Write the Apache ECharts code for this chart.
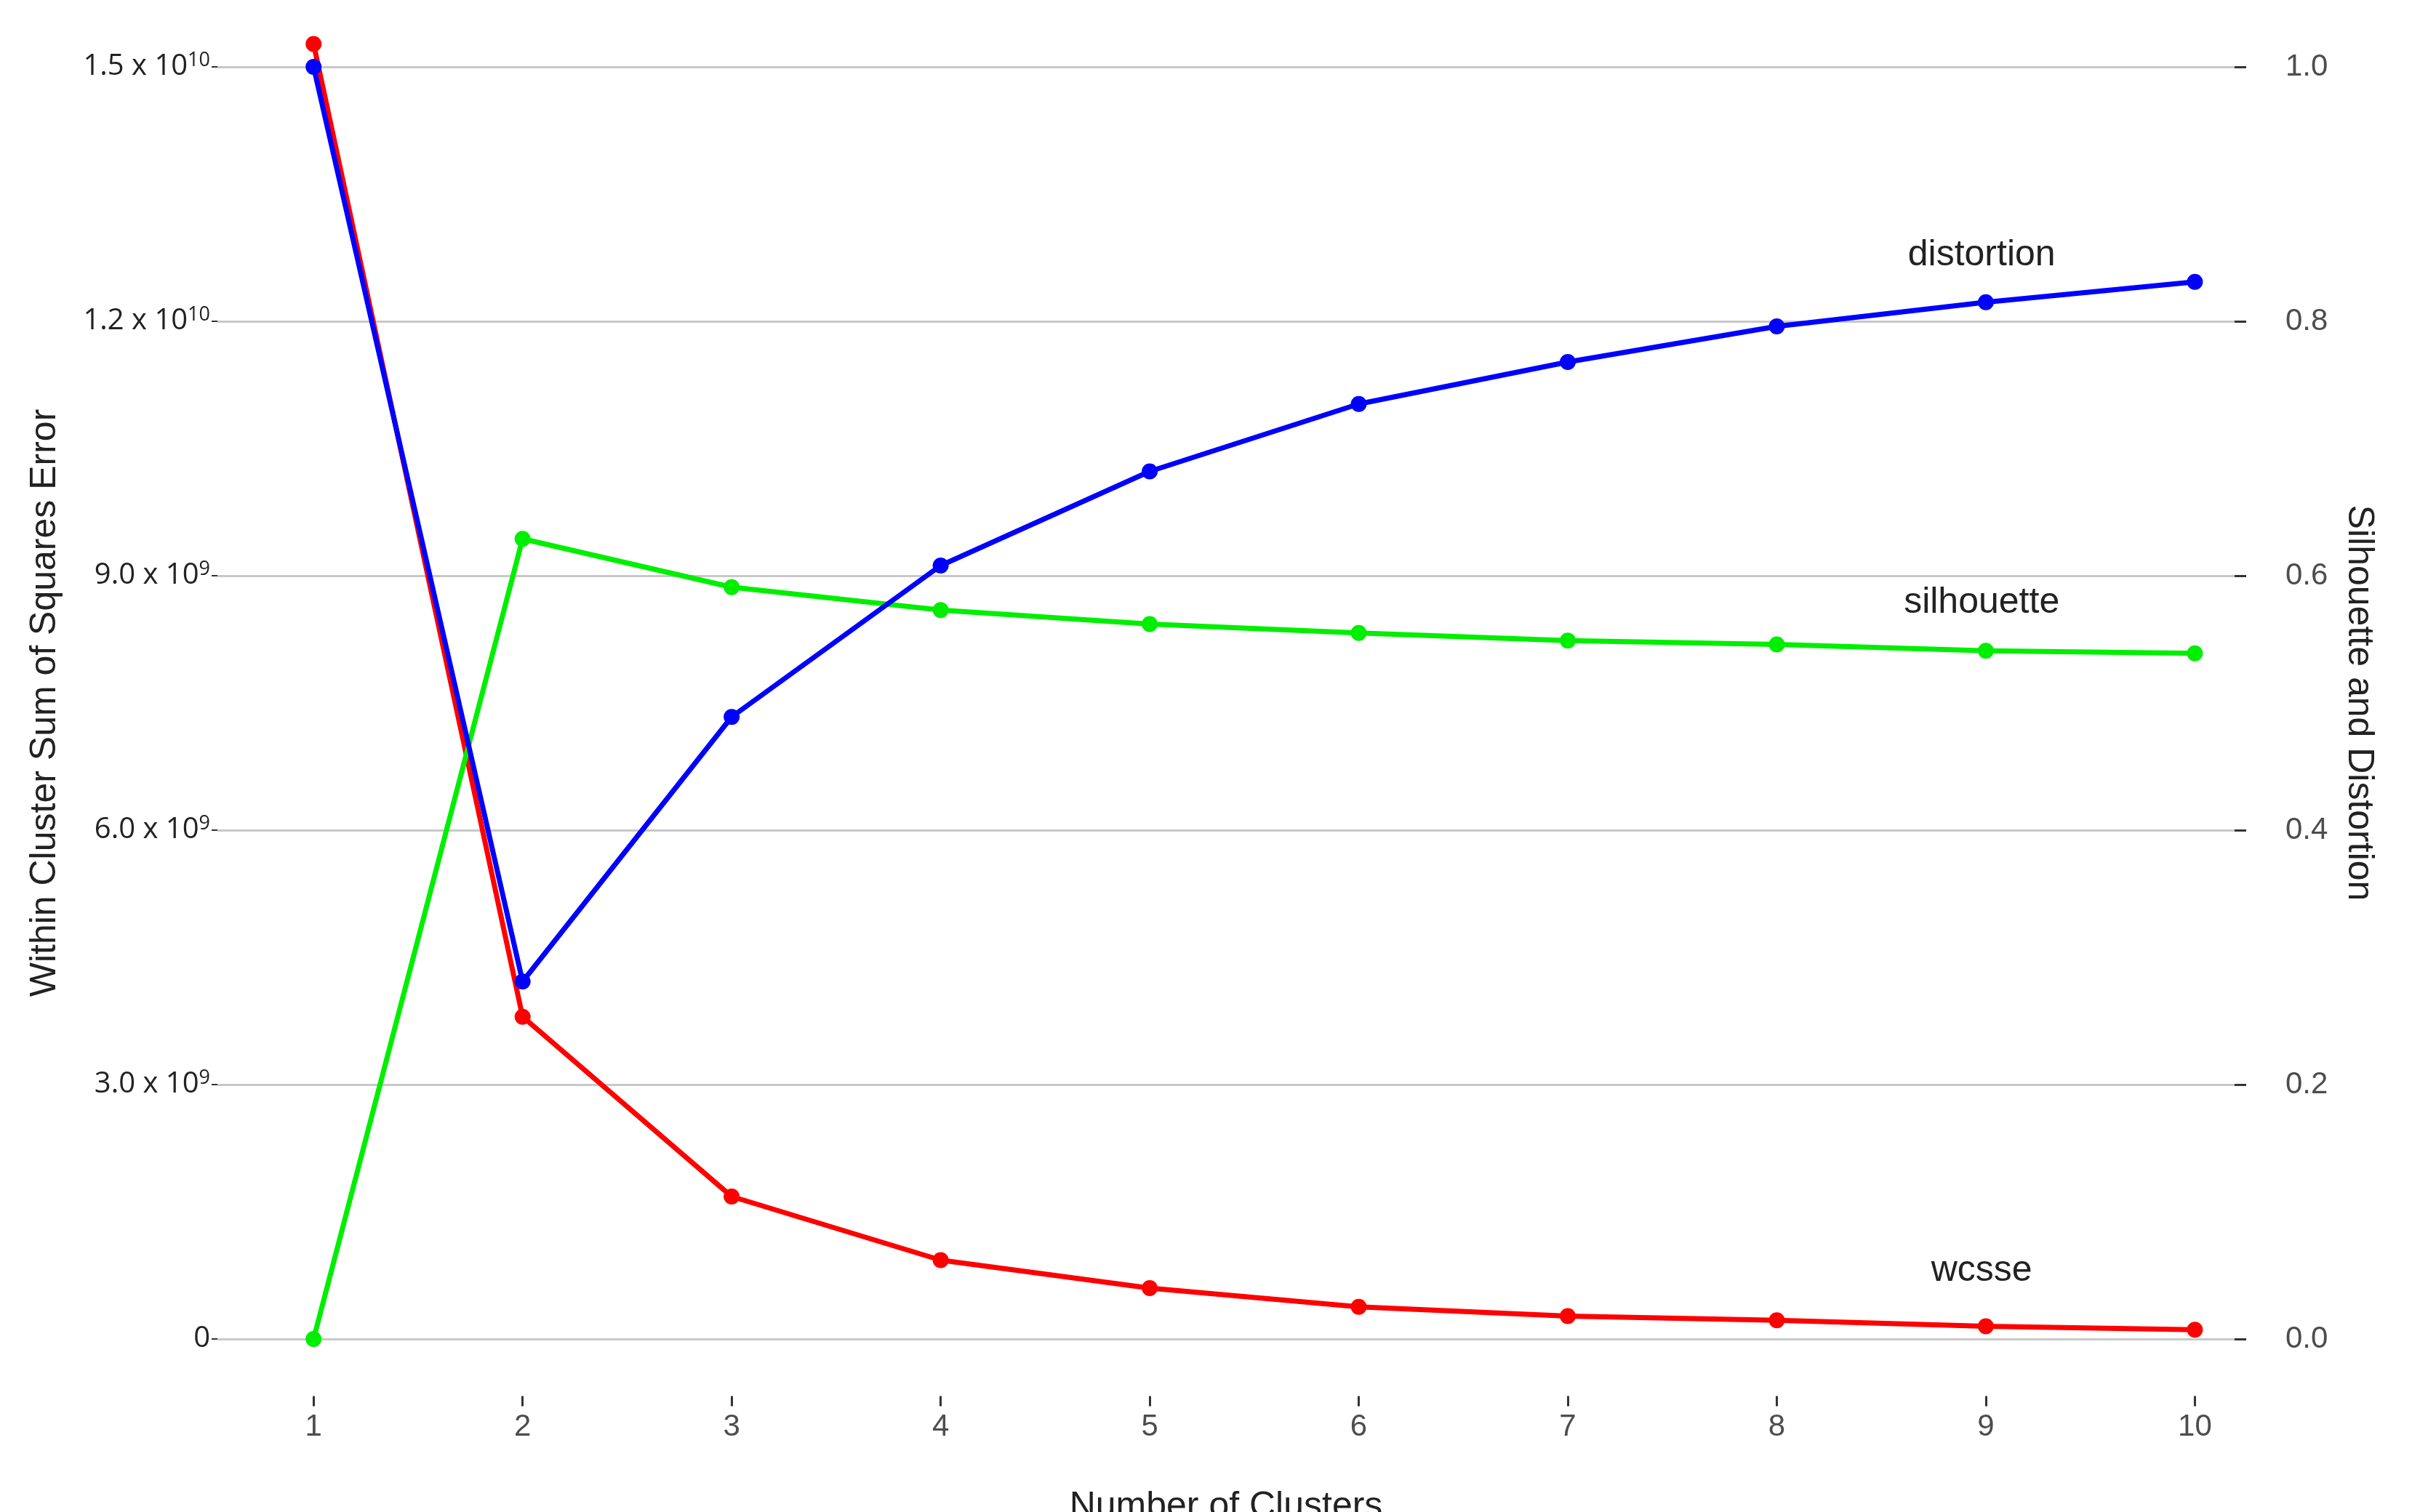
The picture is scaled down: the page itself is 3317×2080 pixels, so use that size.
<!DOCTYPE html>
<html><head><meta charset="utf-8">
<script src="https://cdn.jsdelivr.net/npm/echarts@6/dist/echarts.min.js"></script>
<style>html,body{margin:0;padding:0;background:#fff}#c{width:3317px;height:2080px}</style>
</head><body><div id="c"></div>
<script>
const clusters = [1,2,3,4,5,6,7,8,9,10];
const wcsse = [1.527e10,3.80e9,1.68e9,9.3e8,6.0e8,3.8e8,2.7e8,2.2e8,1.5e8,1.1e8];
const distortion = [1.0,0.281,0.489,0.608,0.682,0.735,0.768,0.796,0.815,0.831];
const silhouette = [0.0,0.629,0.591,0.573,0.562,0.555,0.549,0.546,0.541,0.539];
const leftTicks = {0:'0',3e9:'3.0 x 10{s|9}',6e9:'6.0 x 10{s|9}',9e9:'9.0 x 10{s|9}',1.2e10:'1.2 x 10{s|10}',1.5e10:'1.5 x 10{s|10}'};
const seriesLabels = [['distortion',0.852],['silhouette',0.579],['wcsse',8.0e8]];

const chart = echarts.init(document.getElementById('c'));
const mk = (name, data, color, yIdx) => {
  const lab = seriesLabels.find(l=>l[0]===name);
  return {
    name, type:'line', data: clusters.map((c,i)=>[c,data[i]]), yAxisIndex:yIdx, xAxisIndex:0,
    lineStyle:{color, width:7}, itemStyle:{color}, symbol:'circle', symbolSize:22,
    clip:false, z: name==='distortion'?5:3,
    markPoint:{symbol:'circle', symbolSize:1, itemStyle:{color:'rgba(0,0,0,0)'},
      label:{show:true, position:'inside', formatter:name, color:'#222', fontSize:50, fontFamily:'Liberation Sans'},
      data:[{coord:[8.98, lab[1]]}]}
  };
};
const xCommon = {type:'value', min:0.54, max:10.19, interval:1};
chart.setOption({
  animation:false,
  grid:[{left:299, right:244, top:92, bottom:238},
        {left:299, right:244, top:1920, height:2}],
  xAxis:[
    Object.assign({gridIndex:0, show:false}, xCommon),
    Object.assign({gridIndex:1, position:'bottom',
      axisLine:{show:false}, splitLine:{show:false},
      axisTick:{show:true, length:14, lineStyle:{color:'#333', width:3}, customValues:clusters},
      axisLabel:{margin:22, fontSize:42, color:'#4d4d4d', fontFamily:'Liberation Sans', customValues:clusters},
      name:'Number of Clusters', nameLocation:'middle', nameGap:128,
      nameTextStyle:{fontSize:50, color:'#222', fontFamily:'Liberation Sans'}}, xCommon)
  ],
  yAxis:[
    {gridIndex:0, type:'value', min:0, max:1.5e10, interval:3e9,
     axisLine:{show:false}, axisTick:{show:true,length:8,lineStyle:{color:'#333',width:2}},
     splitLine:{lineStyle:{color:'#c8c8c8', width:3}},
     axisLabel:{margin:10, formatter:v=>leftTicks[v]||'', fontSize:40, color:'#222', fontFamily:'Open Sans',
       rich:{s:{fontSize:27, verticalAlign:'top', padding:[0,0,18,0], color:'#222', fontFamily:'Open Sans'}}},
     name:'Within Cluster Sum of Squares Error', nameLocation:'middle', nameGap:212,
     nameTextStyle:{fontSize:50, color:'#222', fontFamily:'Liberation Sans'}},
    {gridIndex:0, type:'value', min:0, max:1.0, interval:0.2, position:'right',
     axisLine:{show:false}, splitLine:{show:false},
     axisTick:{show:true,length:16,lineStyle:{color:'#333',width:3}},
     axisLabel:{margin:70, formatter:v=>v.toFixed(1), fontSize:42, color:'#4d4d4d', fontFamily:'Liberation Sans'},
     name:'Silhouette and Distortion', nameLocation:'middle', nameGap:146, nameRotate:-90,
     nameTextStyle:{fontSize:50, color:'#222', fontFamily:'Liberation Sans'}},
    {gridIndex:1, type:'value', show:false, min:0, max:1}
  ],
  series:[
    mk('wcsse', wcsse, '#ff0000', 0),
    mk('silhouette', silhouette, '#00ee00', 1),
    mk('distortion', distortion, '#0000ff', 1)
  ]
});
</script></body></html>
